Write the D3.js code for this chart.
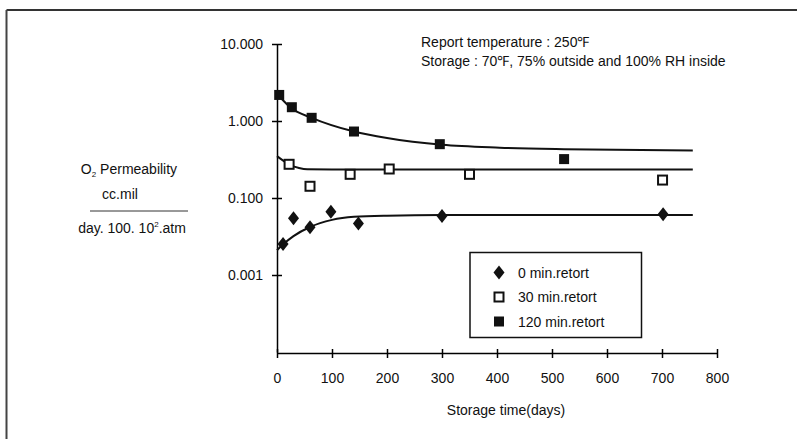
<!DOCTYPE html>
<html>
<head>
<meta charset="utf-8">
<script src="https://cdn.jsdelivr.net/npm/d3@7"></script>
<style>
  body { margin: 0; background: #fff; }
  text { font-family: "Liberation Sans", Arial, sans-serif; fill: #111; }
</style>
</head>
<body>
<svg id="chart" width="797" height="439"></svg>
<script>
// values
const xTicks = [0, 100, 200, 300, 400, 500, 600, 700, 800];
const yTicks = [10, 1, 0.1, 0.01];
const yTickLabels = ["10.000", "1.000", "0.100", "0.001"];

const days0 = [11, 30, 60, 98, 148, 300, 702];
const perm0 = [0.0253, 0.0545, 0.0417, 0.0664, 0.0468, 0.0584, 0.0615];
const days30 = [22, 60, 133, 204, 350, 701];
const perm30 = [0.274, 0.142, 0.203, 0.238, 0.203, 0.171];
const days120 = [4, 27, 63, 140, 296, 522];
const perm120 = [2.18, 1.51, 1.10, 0.73, 0.50, 0.32];

// fitted trend lines as drawn
const fitDays0 = [0, 11, 30, 60, 100, 140, 200, 300, 756];
const fitPerm0 = [0.021, 0.025, 0.032, 0.042, 0.052, 0.057, 0.059, 0.06, 0.06];
const fitDays30 = [0, 10, 25, 40, 55, 100, 756];
const fitPerm30 = [0.35, 0.31, 0.265, 0.245, 0.236, 0.235, 0.235];
const fitDays120 = [4, 27, 63, 140, 200, 300, 405, 522, 756];
const fitPerm120 = [2.1, 1.45, 1.1, 0.73, 0.6, 0.49, 0.45, 0.43, 0.415];

const legendLabels = ["0 min.retort", "30 min.retort", "120 min.retort"];

const svg = d3.select("#chart");

// frame lines (top and left only)
svg.append("line").attr("x1", 6.5).attr("y1", 10).attr("x2", 797).attr("y2", 10)
  .attr("stroke", "#333").attr("stroke-width", 2);
svg.append("line").attr("x1", 6.5).attr("y1", 10).attr("x2", 6.5).attr("y2", 439)
  .attr("stroke", "#444").attr("stroke-width", 2);

const x = d3.scaleLinear().domain([0, 800]).range([277, 717]);
const y = d3.scaleLog().domain([0.001, 10]).range([352, 44]);

// x axis
const xAxis = svg.append("g")
  .attr("transform", "translate(0,353)")
  .call(d3.axisBottom(x).tickValues(xTicks).tickSize(5).tickSizeOuter(0).tickFormat(d3.format("d")));
xAxis.selectAll(".tick line").attr("y1", -4).attr("stroke-width", 1.5);
xAxis.select(".domain").attr("stroke-width", 1.5);
xAxis.selectAll(".tick text").attr("y", 20).attr("font-size", 14).attr("font-family", "Liberation Sans, Arial, sans-serif");

// y axis
const yAxis = svg.append("g")
  .attr("transform", "translate(277,0)")
  .call(d3.axisLeft(y).tickValues(yTicks).tickSize(5).tickSizeOuter(0)
    .tickFormat((d, i) => yTickLabels[i]));
yAxis.selectAll(".tick line").attr("x1", 5).attr("stroke-width", 1.5);
yAxis.select(".domain").attr("stroke-width", 1.5);
yAxis.selectAll(".tick text").attr("x", -14).attr("font-size", 14).attr("font-family", "Liberation Sans, Arial, sans-serif");

// trend lines
const line = d3.line().x(d => x(d[0])).y(d => y(d[1])).curve(d3.curveMonotoneX);
[[fitDays0, fitPerm0], [fitDays30, fitPerm30], [fitDays120, fitPerm120]].forEach(([ds, ps]) => {
  svg.append("path")
    .datum(ds.map((d, i) => [d, ps[i]]))
    .attr("d", line)
    .attr("fill", "none")
    .attr("stroke", "#111")
    .attr("stroke-width", 2);
});

// markers
function diamond(g) {
  g.append("path").attr("d", "M0,-7L5.5,0L0,7L-5.5,0Z").attr("fill", "#111");
}
function openSquare(g) {
  g.append("rect").attr("x", -4.5).attr("y", -4.5).attr("width", 9).attr("height", 9)
    .attr("fill", "#fff").attr("stroke", "#111").attr("stroke-width", 2);
}
function filledSquare(g) {
  g.append("rect").attr("x", -5).attr("y", -5).attr("width", 10).attr("height", 10).attr("fill", "#111");
}

function plot(ds, ps, marker) {
  svg.append("g").selectAll("g")
    .data(ds.map((d, i) => [d, ps[i]]))
    .join("g")
    .attr("transform", d => `translate(${x(d[0])},${y(d[1])})`)
    .each(function () { marker(d3.select(this)); });
}
plot(days0, perm0, diamond);
plot(days30, perm30, openSquare);
plot(days120, perm120, filledSquare);

// legend
const legend = svg.append("g");
legend.append("rect").attr("x", 470).attr("y", 252.5).attr("width", 171.5).attr("height", 85)
  .attr("fill", "#fff").attr("stroke", "#111").attr("stroke-width", 1.5);
const markers = [diamond, openSquare, filledSquare];
legendLabels.forEach((lab, i) => {
  const ly = 272.5 + i * 24.5;
  const g = legend.append("g").attr("transform", `translate(499,${ly})`);
  markers[i](g);
  legend.append("text").attr("x", 518).attr("y", ly + 5).attr("font-size", 14).text(lab);
});

// annotation
svg.append("text").attr("x", 421).attr("y", 47).attr("font-size", 14)
  .text("Report temperature : 250\u2109");
svg.append("text").attr("x", 421).attr("y", 66).attr("font-size", 14)
  .text("Storage : 70\u2109, 75% outside and 100% RH inside");

// y axis title
svg.append("text").attr("x", 129).attr("y", 174).attr("text-anchor", "middle").attr("font-size", 14)
  .html("O<tspan font-size='8' dy='3'>2</tspan><tspan dy='-3'> Permeability</tspan>");
svg.append("text").attr("x", 120).attr("y", 199).attr("text-anchor", "middle").attr("font-size", 14)
  .text("cc.mil");
svg.append("line").attr("x1", 90).attr("x2", 188).attr("y1", 211).attr("y2", 211)
  .attr("stroke", "#333").attr("stroke-width", 1);
svg.append("text").attr("x", 132).attr("y", 233).attr("text-anchor", "middle").attr("font-size", 14)
  .html("day. 100. 10<tspan font-size='8' dy='-6'>2</tspan><tspan dy='6'>.atm</tspan>");

// x axis title
svg.append("text").attr("x", 506).attr("y", 415).attr("text-anchor", "middle").attr("font-size", 14)
  .text("Storage time(days)");
</script>
</body>
</html>
